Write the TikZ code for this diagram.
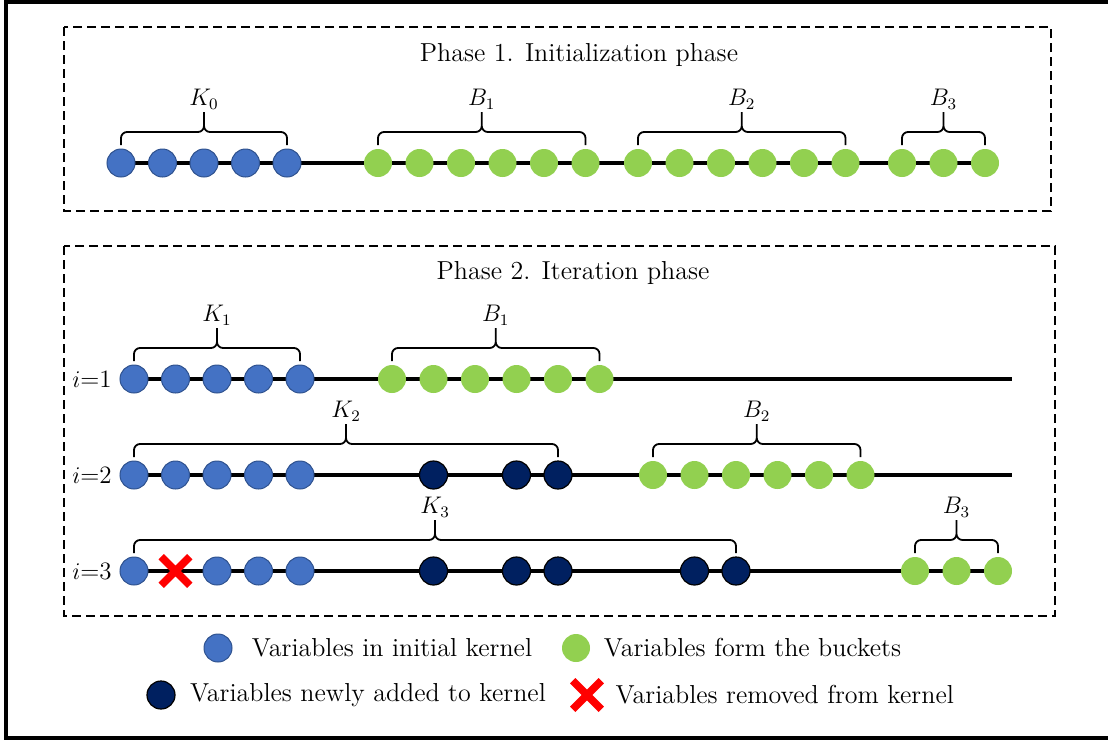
\documentclass[tikz,border=0pt]{standalone}
\usepackage{amsmath}
\usepackage{tikz}
\usetikzlibrary{calc,backgrounds,positioning,shapes.misc}
\usepackage{xcolor}
\definecolor{kblue}{HTML}{4472C4}
\definecolor{kedge}{HTML}{2F528F}
\definecolor{bgreen}{HTML}{92D050}
\definecolor{knavy}{HTML}{002060}
\tikzset{
  var/.style={circle,minimum size=14pt,inner sep=0pt},
  kvar/.style={var,fill=kblue,draw=kedge,line width=0.5pt},
  bvar/.style={var,fill=bgreen},
  nvar/.style={var,fill=knavy,draw=black,line width=0.6pt},
  xvar/.style={cross out,draw=red,line width=3.8pt,minimum size=10.5pt,inner sep=0pt},
  rowline/.style={line width=2pt},
  phasebox/.style={line width=0.8pt,dash pattern=on 4.5pt off 2.5pt},
  grpbrace/.style={line width=0.9pt,rounded corners=3pt},
  grplabel/.style={anchor=south,inner sep=1pt,font=\fontsize{12}{14}\selectfont},
  title/.style={font=\fontsize{13}{15}\selectfont,inner sep=0pt},
  legtext/.style={anchor=west,inner sep=0pt,font=\fontsize{13}{15}\selectfont},
  rowlabel/.style={anchor=east,inner sep=0pt,font=\fontsize{12.5}{15}\selectfont}
}
% brace over a group: first node, last node, label, name
\newcommand{\grpbrace}[4]{%
  \coordinate (#4l) at ($(#1)+(0,-18)$);
  \coordinate (#4r) at ($(#2)+(0,-18)$);
  \coordinate (#4m) at ($(#4l)!0.5!(#4r)+(0,-13)$);
  \draw[grpbrace] (#4l) |- (#4m) -- ++(0,-20) node[grplabel] (#4) {#3}
                  (#4r) |- (#4m) -- ++(0,-20);
}

\begin{document}
\begin{tikzpicture}[x=0.5pt,y=-0.5pt]
  \useasboundingbox (0,0) rectangle (1108,740);
  \draw[line width=2.2pt] (1115,1.5) -- (5.8,1.5) -- (5.8,737.8) -- (1115,737.8);

  % phase 1
  \draw[phasebox] (64,27) rectangle (1051,211);
  \node[title] (t1) at (579,55) {Phase 1. Initialization phase};
  \foreach \k in {1,...,5}
    \node[kvar] (ini-k\k) at ({121+41.5*(\k-1)},163) {};
  \foreach \k in {1,...,6}
    \node[bvar] (ini-ba\k) at ({378+41.5*(\k-1)},163) {};
  \foreach \k in {1,...,6}
    \node[bvar] (ini-bb\k) at ({638+41.5*(\k-1)},163) {};
  \foreach \k in {1,...,3}
    \node[bvar] (ini-bc\k) at ({902+41.5*(\k-1)},163) {};
  \begin{scope}[on background layer]
    \draw[rowline] (ini-k1.center) -- (ini-bc3.center);
  \end{scope}
  \grpbrace{ini-k1}{ini-k5}{$K_0$}{ik}
  \grpbrace{ini-ba1}{ini-ba6}{$B_1$}{iba}
  \grpbrace{ini-bb1}{ini-bb6}{$B_2$}{ibb}
  \grpbrace{ini-bc1}{ini-bc3}{$B_3$}{ibc}

  % phase 2
  \draw[phasebox] (64,246) rectangle (1055,616);
  \node[title] (t2) at (573,273) {Phase 2. Iteration phase};

  % i=1
  \node[rowlabel] (r1) at (112,379) {$i$=1};
  \foreach \k in {1,...,5}
    \node[kvar] (it1-k\k) at ({134+41.5*(\k-1)},379) {};
  \foreach \k in {1,...,6}
    \node[bvar] (it1-b\k) at ({392+41.5*(\k-1)},379) {};
  \coordinate (it1-end) at (1012,379);
  \begin{scope}[on background layer]
    \draw[rowline] (it1-k1.center) -- (it1-end);
  \end{scope}
  \grpbrace{it1-k1}{it1-k5}{$K_1$}{k1}
  \grpbrace{it1-b1}{it1-b6}{$B_1$}{b1}

  % i=2
  \node[rowlabel] (r2) at (112,475) {$i$=2};
  \foreach \k in {1,...,5}
    \node[kvar] (it2-k\k) at ({134+41.5*(\k-1)},475) {};
  \foreach \x [count=\k] in {433.5,516.5,558}
    \node[nvar] (it2-n\k) at (\x,475) {};
  \foreach \k in {1,...,6}
    \node[bvar] (it2-b\k) at ({653+41.5*(\k-1)},475) {};
  \coordinate (it2-end) at (1012,475);
  \begin{scope}[on background layer]
    \draw[rowline] (it2-k1.center) -- (it2-end);
  \end{scope}
  \grpbrace{it2-k1}{it2-n3}{$K_2$}{k2}
  \grpbrace{it2-b1}{it2-b6}{$B_2$}{b2}

  % i=3
  \node[rowlabel] (r3) at (112,571) {$i$=3};
  \foreach \k in {1,3,4,5}
    \node[kvar] (it3-k\k) at ({134+41.5*(\k-1)},571) {};
  \node[xvar] (it3-x) at (175.5,571) {};
  \foreach \x [count=\k] in {433.5,516.5,558,694.5,736}
    \node[nvar] (it3-n\k) at (\x,571) {};
  \foreach \k in {1,...,3}
    \node[bvar] (it3-b\k) at ({915+41.5*(\k-1)},571) {};
  \begin{scope}[on background layer]
    \draw[rowline] (it3-k1.center) -- (it3-b3.center);
  \end{scope}
  \grpbrace{it3-k1}{it3-n5}{$K_3$}{k3}
  \grpbrace{it3-b1}{it3-b3}{$B_3$}{b3}

  % legend
  \node[kvar] (lg-k) at (218,648) {};
  \node[legtext,right=9.5pt of lg-k] (lg-kt) {Variables in initial kernel};
  \node[bvar] (lg-b) at (576,648) {};
  \node[legtext,right=6.5pt of lg-b] (lg-bt) {Variables form the buckets};
  \node[nvar] (lg-n) at (161,695) {};
  \node[legtext,right=7pt of lg-n] (lg-nt) {Variables newly added to kernel};
  \node[xvar] (lg-x) at (587,695) {};
  \node[legtext,right=7pt of lg-x] (lg-xt) {Variables removed from kernel};
\end{tikzpicture}
\end{document}
